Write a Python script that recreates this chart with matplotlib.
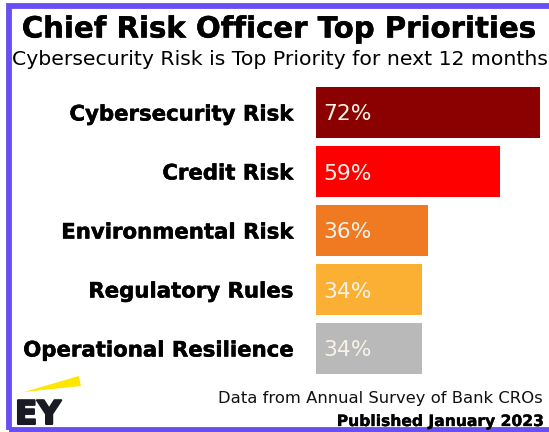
import matplotlib
matplotlib.use("Agg")
import matplotlib.pyplot as plt
from matplotlib.patches import Rectangle, Polygon
import matplotlib.patheffects as pe

categories = ["Cybersecurity Risk", "Credit Risk", "Environmental Risk",
              "Regulatory Rules", "Operational Resilience"]
values = [72, 59, 36, 34, 34]
value_labels = ["72%", "59%", "36%", "34%", "34%"]
title = "Chief Risk Officer Top Priorities"
subtitle = "Cybersecurity Risk is Top Priority for next 12 months"
footer1 = "Data from Annual Survey of Bank CROs"
footer2 = "Published January 2023"

bar_colors = ["#8B0000", "#FF0000", "#EF7A22", "#FBB034", "#B9B9B9"]

W, H = 549, 432
FONT = "DejaVu Sans"
plt.rcParams["font.family"] = [FONT]

fig = plt.figure(figsize=(W / 100, H / 100), dpi=100)
fig.patch.set_facecolor("white")

def fx(px):
    return px / W

def fy(py):
    return 1 - py / H

heavy = [pe.withStroke(linewidth=0.35, foreground="black")]

# axes
ax_left, ax_right = 316, 549
ax_top, ax_bot = 80, 380
ax = fig.add_axes([fx(ax_left), fy(ax_bot), fx(ax_right - ax_left), (ax_bot - ax_top) / H])
scale = (540 - 316) / 72.0
ax.set_xlim(0, (ax_right - ax_left) / scale)
pitch = 59.0
ax.set_ylim(4 + (ax_bot - 348.5) / pitch, -(112.5 - ax_top) / pitch)

ypos = list(range(len(categories)))
ax.barh(ypos, values, height=0.865, color=bar_colors, left=0)
ax.set_yticks(ypos)
ax.set_yticklabels(categories, fontsize=15.3, fontweight="bold", color="black")
for t in ax.get_yticklabels():
    t.set_path_effects(heavy)
ax.tick_params(axis="y", length=0, pad=16.5)
ax.set_xticks([])
for s in ax.spines.values():
    s.set_visible(False)
ax.set_facecolor("none")

for y, v, lab in zip(ypos, values, value_labels):
    ax.annotate(lab, xy=(0, y), xytext=(5.5, 0), textcoords="offset points",
                ha="left", va="center_baseline", fontsize=15.7, color="#F8F2E8")

# titles
fig.text(fx(279), fy(37.5), title, ha="center", va="baseline",
         fontsize=21, fontweight="bold", color="black", path_effects=heavy)
fig.text(fx(280), fy(65), subtitle, ha="center", va="baseline",
         fontsize=14.7, color="black")

# footer
fig.text(fx(543), fy(403), footer1, ha="right", va="baseline",
         fontsize=11.8, color="#111111")
fig.text(fx(543), fy(426), footer2, ha="right", va="baseline",
         fontsize=11.2, fontweight="bold", color="black",
         path_effects=[pe.withStroke(linewidth=0.25, foreground="black")])

# EY logo
fig.text(fx(15), fy(424), "EY", ha="left", va="baseline",
         fontsize=23.5, fontweight="bold", color="#1A1A24",
         path_effects=[pe.withStroke(linewidth=1.5, foreground="#1A1A24")])
beam = Polygon([(fx(24), fy(392)), (fx(79), fy(376)), (fx(81), fy(386))],
               closed=True, transform=fig.transFigure, facecolor="#FFE600",
               edgecolor="none")
fig.patches.append(beam)

# purple frame (right side cut off)
frame = Rectangle((fx(8.5), fy(430)), fx(570 - 8.5), (430 - 6.3) / H,
                  transform=fig.transFigure, fill=False, edgecolor="#6B4EF2",
                  linewidth=4.2, clip_on=False)
fig.patches.append(frame)

fig.savefig("out.png", dpi=100, facecolor="white")
